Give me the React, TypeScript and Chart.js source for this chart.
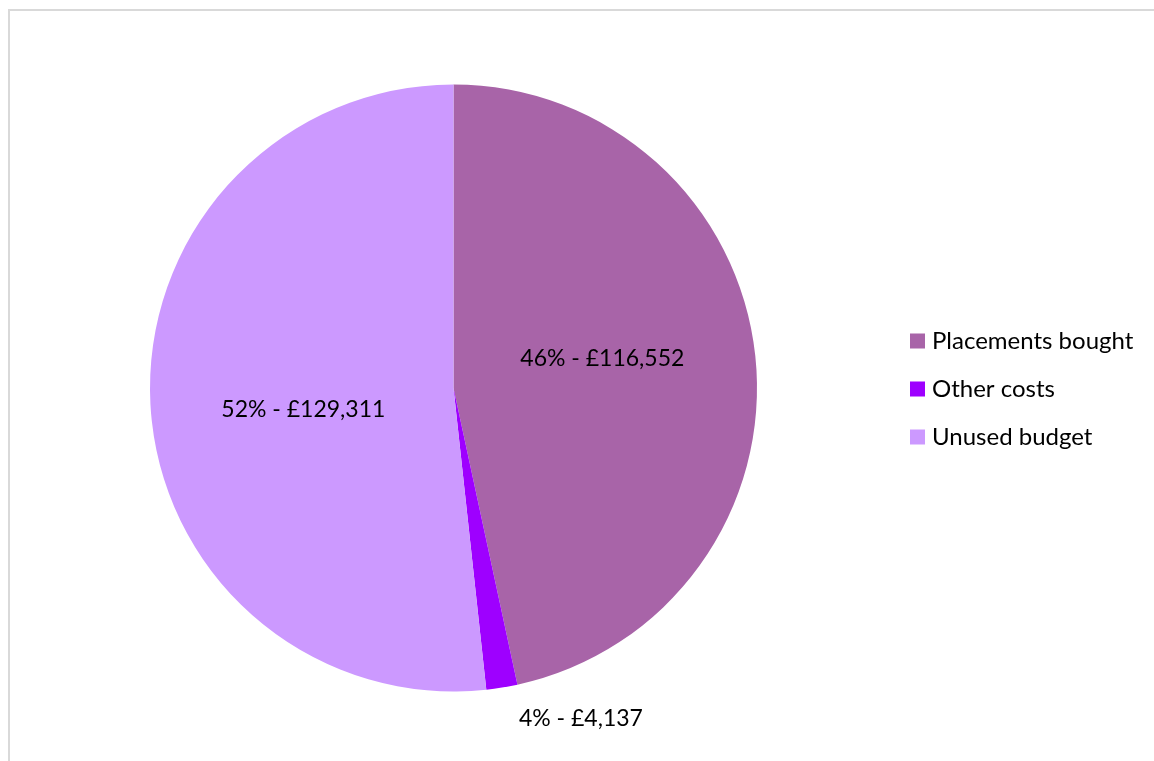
import React, { useEffect, useRef } from "react";
import { Chart, registerables } from "chart.js";

Chart.register(...registerables);

const categories = ["Placements bought", "Other costs", "Unused budget"];
const amounts = [116552, 4137, 129311];
const percentLabels = ["46%", "4%", "52%"];
const colors = ["#A864A8", "#9E00FF", "#CC99FF"];

const LABEL_FONT = "23px Lato, 'Noto Sans', sans-serif";
const LEGEND_FONT = "24px Lato, 'Noto Sans', sans-serif";

const labelPlugin = {
  id: "sliceLabels",
  afterDatasetsDraw(chart: any) {
    const meta = chart.getDatasetMeta(0);
    const ctx = chart.ctx;
    ctx.save();
    ctx.font = LABEL_FONT;
    ctx.fillStyle = "#000";
    ctx.textBaseline = "middle";
    meta.data.forEach((arc: any, i: number) => {
      const { x, y, startAngle, endAngle, outerRadius } = arc.getProps(
        ["x", "y", "startAngle", "endAngle", "outerRadius"],
        true
      );
      const frac = (endAngle - startAngle) / (Math.PI * 2);
      const text = `${percentLabels[i]} - £${amounts[i].toLocaleString("en-GB")}`;
      if (frac > 0.05) {
        const mid = (startAngle + endAngle) / 2 - 0.09;
        const r = outerRadius * 0.5;
        ctx.textAlign = "center";
        ctx.fillText(text, x + Math.cos(mid) * r, y + Math.sin(mid) * r);
      } else {
        const mid = (startAngle + endAngle) / 2;
        const r = outerRadius + 31;
        ctx.textAlign = "left";
        ctx.fillText(text, x + Math.cos(mid) * r + 12, y + Math.sin(mid) * r);
      }
    });
    ctx.restore();
  },
};

const legendPlugin = {
  id: "sideLegend",
  afterDraw(chart: any) {
    const ctx = chart.ctx;
    const area = chart.chartArea;
    const x0 = area.right + 153;
    const yc = (area.top + area.bottom) / 2;
    ctx.save();
    ctx.font = LEGEND_FONT;
    ctx.textBaseline = "middle";
    ctx.textAlign = "left";
    categories.forEach((name, i) => {
      const y = yc + (i - 1) * 48 + 1;
      ctx.fillStyle = colors[i];
      ctx.fillRect(x0, y - 7.5, 15, 15);
      ctx.fillStyle = "#000";
      ctx.fillText(name, x0 + 22, y);
    });
    ctx.restore();
  },
};

export default function App() {
  const ref = useRef<HTMLCanvasElement>(null);
  useEffect(() => {
    if (!ref.current) return;
    const chart = new Chart(ref.current, {
      type: "pie",
      data: {
        labels: categories,
        datasets: [
          {
            data: amounts,
            backgroundColor: colors,
            borderWidth: 0,
            hoverOffset: 0,
            offset: 0,
          },
        ],
      },
      options: {
        responsive: false,
        animation: false,
        layout: { padding: { left: 140, right: 397, top: 73.5, bottom: 57.5 } },
        plugins: {
          legend: { display: false },
          tooltip: { enabled: false },
        },
      },
      plugins: [labelPlugin, legendPlugin],
    });
    return () => chart.destroy();
  }, []);
  return (
    <div
      style={{
        position: "fixed",
        left: 8,
        top: 9,
        width: 1200,
        height: 800,
        borderLeft: "2px solid #d9d9d9",
        borderTop: "2px solid #d9d9d9",
        boxSizing: "border-box",
        background: "#fff",
      }}
    >
      <canvas ref={ref} width={1144} height={738} style={{ display: "block" }} />
    </div>
  );
}
